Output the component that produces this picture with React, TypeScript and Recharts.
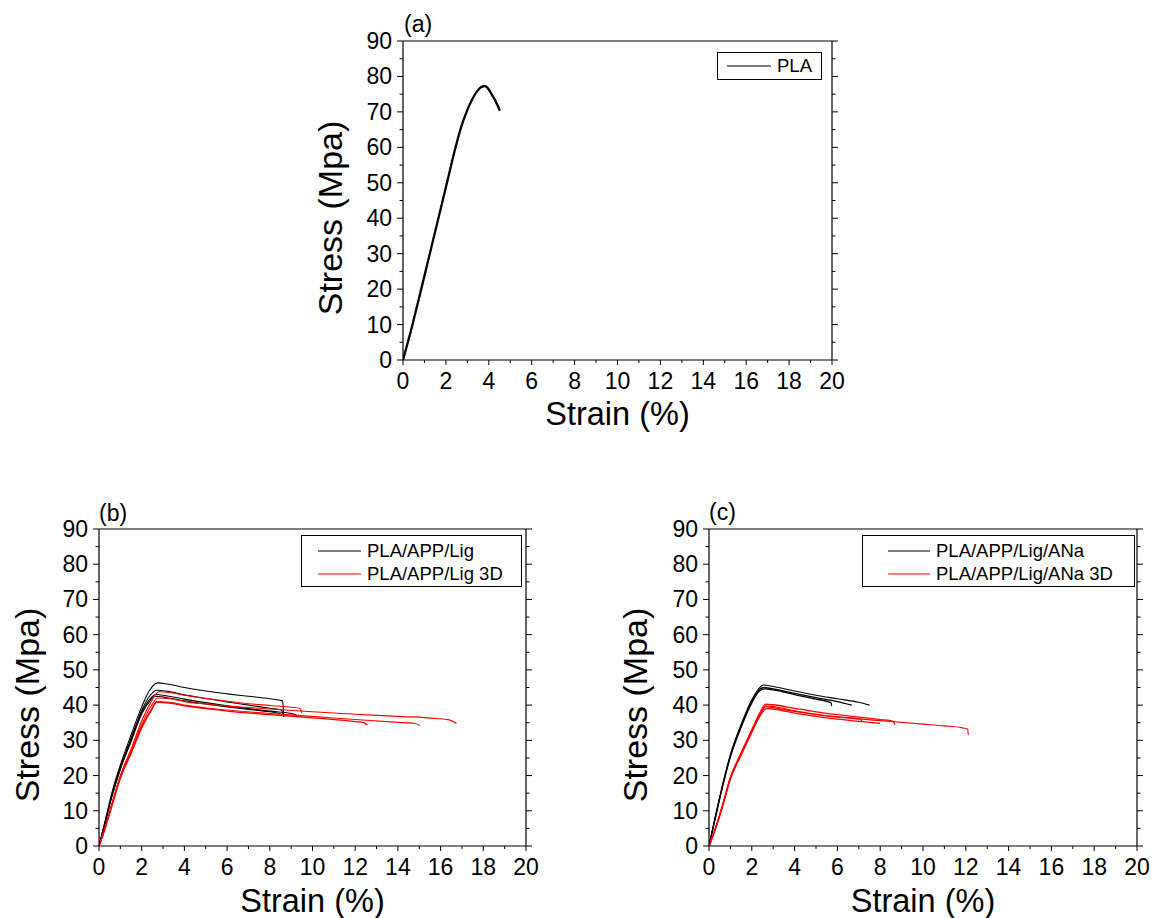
import React from 'react';
import { LineChart, Line, XAxis, YAxis, Legend } from 'recharts';

const FONT = '"Liberation Sans", Arial, Helvetica, sans-serif';
const BLACK = '#000000';
const RED = '#ff0000';

// axis ticks
const strainTicks = [0, 1, 2, 3, 4, 5, 6, 7, 8, 9, 10, 11, 12, 13, 14, 15, 16, 17, 18, 19, 20];
const stressTicks = [0, 5, 10, 15, 20, 25, 30, 35, 40, 45, 50, 55, 60, 65, 70, 75, 80, 85, 90];

// (a) PLA
const plaStrain = [0, 0.4, 0.85, 1.25, 1.65, 2.05, 2.45, 2.7, 2.95, 3.2, 3.45, 3.65, 3.82, 3.95, 4.15, 4.35, 4.52];
const plaStress = [0, 9, 20, 30, 40, 50, 60, 65.5, 69.8, 73.2, 75.8, 77, 77.3, 76.7, 74.8, 72.6, 70.3];

// (b) PLA/APP/Lig
const ligStrain1 = [0, 0.3, 0.6, 1, 1.5, 2, 2.4, 2.75, 3.2, 4, 5, 6, 7, 8, 8.6, 8.65];
const ligStress1 = [0, 7.5, 15, 23, 31.5, 39.5, 44.5, 46.3, 46, 45, 44, 43.2, 42.5, 41.8, 41.2, 36.6];
const ligStrain2 = [0, 0.3, 0.6, 1, 1.5, 2, 2.4, 2.7, 3.2, 4, 5, 6, 7, 8, 8.55, 8.6];
const ligStress2 = [0, 7, 14.5, 22.5, 30.5, 38.5, 42.8, 44.2, 43.9, 42.9, 41.9, 40.9, 40, 39.1, 38.6, 37.3];
const ligStrain3 = [0, 0.3, 0.6, 1, 1.5, 2, 2.4, 2.65, 3.2, 4, 5, 6, 7, 8, 9, 9.25];
const ligStress3 = [0, 7, 14, 22, 30, 38, 41.8, 43, 42.6, 41.7, 40.7, 39.8, 39, 38.3, 37.6, 37.2];
const ligStrain4 = [0, 0.3, 0.6, 1, 1.5, 2, 2.4, 2.6, 3.2, 4, 5, 6, 7, 8, 8.5];
const ligStress4 = [0, 6.8, 14, 21.8, 29.6, 37.5, 41.3, 42.5, 42.1, 41.2, 40.3, 39.5, 38.8, 38.1, 37.6];

// (b) PLA/APP/Lig 3D
const lig3dStrain1 = [0, 0.3, 0.6, 1, 1.5, 2, 2.45, 2.8, 3.3, 4, 5, 6, 7, 8, 9, 9.4, 9.5];
const lig3dStress1 = [0, 5.5, 12, 20, 27.5, 35.5, 41, 43.8, 43.6, 42.8, 41.9, 41.1, 40.4, 39.9, 39.4, 39.1, 37.8];
const lig3dStrain2 = [0, 0.3, 0.6, 1, 1.5, 2, 2.45, 2.75, 3.3, 4, 5, 6, 7, 8, 10, 12, 14, 15.8, 16.4, 16.75];
const lig3dStress2 = [0, 5.5, 11.8, 19.8, 27, 34.5, 39.8, 42, 41.8, 41, 40.3, 39.7, 39.3, 38.9, 38.1, 37.4, 36.8, 36.2, 35.8, 34.8];
const lig3dStrain3 = [0, 0.3, 0.6, 1, 1.5, 2, 2.45, 2.7, 3.3, 4, 5, 6, 8, 10, 12, 14, 14.8, 15.03];
const lig3dStress3 = [0, 5.3, 11.5, 19.5, 26.5, 34, 38.8, 41, 40.8, 40, 39.2, 38.6, 37.6, 36.8, 35.9, 35.1, 34.8, 34.2];
const lig3dStrain4 = [0, 0.3, 0.6, 1, 1.5, 2, 2.45, 2.7, 3.3, 4, 5, 6, 8, 10, 12, 12.4, 12.57];
const lig3dStress4 = [0, 5.2, 11.2, 19.2, 26.2, 33.5, 38.5, 40.8, 40.6, 39.8, 39, 38.3, 37.3, 36.4, 35.3, 35, 34.3];

// (c) PLA/APP/Lig/ANa
const anaStrain1 = [0, 0.3, 0.6, 1, 1.5, 2, 2.3, 2.55, 3, 4, 5, 6, 7, 7.5];
const anaStress1 = [0, 8.5, 16.5, 26, 34.5, 41.5, 44.5, 45.7, 45.3, 44, 42.8, 41.8, 40.8, 40];
const anaStrain2 = [0, 0.3, 0.6, 1, 1.5, 2, 2.3, 2.55, 3, 4, 5, 6, 6.67];
const anaStress2 = [0, 8.3, 16.2, 25.6, 34, 41, 44, 45, 44.6, 43.3, 42.1, 41, 40];
const anaStrain3 = [0, 0.3, 0.6, 1, 1.5, 2, 2.3, 2.6, 3, 4, 5, 5.7, 5.73];
const anaStress3 = [0, 8, 16, 25.3, 33.7, 40.6, 43.6, 44.6, 44.3, 43, 41.7, 40.7, 39.8];

// (c) PLA/APP/Lig/ANa 3D
const ana3dStrain1 = [0, 0.3, 0.6, 1, 1.5, 2, 2.35, 2.65, 3, 4, 5, 6, 7, 8, 8.6, 8.69];
const ana3dStress1 = [0, 5, 11, 19.5, 26.5, 33, 37.5, 40.3, 40.1, 39.1, 38.1, 37.3, 36.6, 35.9, 35.4, 34.4];
const ana3dStrain2 = [0, 0.3, 0.6, 1, 1.5, 2, 2.35, 2.65, 3, 4, 5, 6, 7, 8, 9, 10, 11, 11.8, 12.08, 12.12];
const ana3dStress2 = [0, 5, 10.8, 19.3, 26.3, 32.8, 37.2, 39.8, 39.6, 38.4, 37.4, 36.7, 36.1, 35.6, 35.1, 34.6, 34.1, 33.6, 33.2, 31.5];
const ana3dStrain3 = [0, 0.3, 0.6, 1, 1.5, 2, 2.35, 2.7, 3, 4, 5, 6, 7, 7.99];
const ana3dStress3 = [0, 4.8, 10.5, 19, 25.8, 32.2, 36.6, 39, 38.9, 37.7, 36.8, 36, 35.4, 34.8];
const ana3dStrain4 = [0, 0.3, 0.6, 1, 1.5, 2, 2.35, 2.65, 3, 4, 5, 6, 7.1, 7.13];
const ana3dStress4 = [0, 4.9, 10.7, 19.2, 26, 32.5, 36.9, 39.5, 39.3, 38.2, 37.3, 36.6, 36, 35.4];

type Pt = { x: number; y: number };
type Curve = { name: string; color: string; width: number; data: Pt[]; legend: boolean };

const zip = (strain: number[], stress: number[]): Pt[] => strain.map((x, i) => ({ x, y: stress[i] }));

const curvesA: Curve[] = [
  { name: 'PLA', color: BLACK, width: 2.3, data: zip(plaStrain, plaStress), legend: true },
];

const curvesB: Curve[] = [
  { name: 'PLA/APP/Lig', color: BLACK, width: 1.1, data: zip(ligStrain1, ligStress1), legend: true },
  { name: 'lig2', color: BLACK, width: 1.1, data: zip(ligStrain2, ligStress2), legend: false },
  { name: 'lig3', color: BLACK, width: 1.1, data: zip(ligStrain3, ligStress3), legend: false },
  { name: 'lig4', color: BLACK, width: 1.1, data: zip(ligStrain4, ligStress4), legend: false },
  { name: 'PLA/APP/Lig 3D', color: RED, width: 1.1, data: zip(lig3dStrain1, lig3dStress1), legend: true },
  { name: 'lig3d2', color: RED, width: 1.1, data: zip(lig3dStrain2, lig3dStress2), legend: false },
  { name: 'lig3d3', color: RED, width: 1.1, data: zip(lig3dStrain3, lig3dStress3), legend: false },
  { name: 'lig3d4', color: RED, width: 1.3, data: zip(lig3dStrain4, lig3dStress4), legend: false },
];

const curvesC: Curve[] = [
  { name: 'PLA/APP/Lig/ANa', color: BLACK, width: 1.1, data: zip(anaStrain1, anaStress1), legend: true },
  { name: 'ana2', color: BLACK, width: 1.3, data: zip(anaStrain2, anaStress2), legend: false },
  { name: 'ana3', color: BLACK, width: 1.3, data: zip(anaStrain3, anaStress3), legend: false },
  { name: 'PLA/APP/Lig/ANa 3D', color: RED, width: 1.3, data: zip(ana3dStrain1, ana3dStress1), legend: true },
  { name: 'ana3d2', color: RED, width: 1.1, data: zip(ana3dStrain2, ana3dStress2), legend: false },
  { name: 'ana3d3', color: RED, width: 1.3, data: zip(ana3dStrain3, ana3dStress3), legend: false },
  { name: 'ana3d4', color: RED, width: 1.3, data: zip(ana3dStrain4, ana3dStress4), legend: false },
];

function BottomTick(props: any) {
  const { x, y, payload } = props;
  const v = payload.value;
  const major = v % 2 === 0;
  return (
    <g>
      <line x1={x} x2={x} y1={y} y2={y + (major ? 5 : 3)} stroke={BLACK} strokeWidth={1} />
      {major && (
        <text x={x} y={y + 29} textAnchor="middle" fontSize={23} fontFamily={FONT} fill={BLACK}>
          {v}
        </text>
      )}
    </g>
  );
}

function TopTick(props: any) {
  const { x, y, payload } = props;
  const major = payload.value % 2 === 0;
  return <line x1={x} x2={x} y1={y} y2={y - (major ? 5 : 3)} stroke={BLACK} strokeWidth={1} />;
}

function LeftTick(props: any) {
  const { x, y, payload } = props;
  const v = payload.value;
  const major = v % 10 === 0;
  return (
    <g>
      <line x1={x} x2={x - (major ? 6 : 3.5)} y1={y} y2={y} stroke={BLACK} strokeWidth={1} />
      {major && (
        <text x={x - 11} y={y + 8} textAnchor="end" fontSize={23} fontFamily={FONT} fill={BLACK}>
          {v}
        </text>
      )}
    </g>
  );
}

function RightTick(props: any) {
  const { x, y, payload } = props;
  const major = payload.value % 10 === 0;
  return <line x1={x} x2={x + (major ? 6 : 3.5)} y1={y} y2={y} stroke={BLACK} strokeWidth={1} />;
}

type Box = { left: number; top: number; width: number; height: number; padLeft: number; sample: number; rowH: number; padTop: number };

const makeLegend = (box: Box, names: string[]) => (props: any) => {
  const items = ((props.payload || []) as any[]).filter((it) => names.includes(it.value));
  return (
    <div
      style={{
        boxSizing: 'border-box',
        width: box.width,
        height: box.height,
        border: '1.3px solid #000',
        background: '#fff',
        paddingLeft: box.padLeft,
        paddingTop: box.padTop,
        fontFamily: FONT,
        fontSize: 18.5,
        color: BLACK,
      }}
    >
      {items.map((it) => (
        <div key={it.value} style={{ display: 'flex', alignItems: 'center', height: box.rowH, whiteSpace: 'nowrap' }}>
          <svg width={box.sample} height={4} style={{ marginRight: 6 }}>
            <line x1={0} x2={box.sample} y1={2} y2={2} stroke={it.color} strokeWidth={1.2} />
          </svg>
          <span>{it.value}</span>
        </div>
      ))}
    </div>
  );
};

type PanelProps = {
  left: number;
  top: number;
  width: number;
  height: number;
  margin: { top: number; right: number; bottom: number; left: number };
  curves: Curve[];
  box: Box;
};

function Panel({ left, top, width, height, margin, curves, box }: PanelProps) {
  const legendNames = curves.filter((c) => c.legend).map((c) => c.name);
  return (
    <div style={{ position: 'absolute', left, top }}>
      <LineChart width={width} height={height} margin={margin}>
        <XAxis
          dataKey="x"
          type="number"
          domain={[0, 20]}
          ticks={strainTicks}
          interval={0}
          allowDataOverflow
          tickSize={0}
          tickMargin={0}
          tickLine={false}
          tick={<BottomTick />}
          axisLine={{ stroke: BLACK, strokeWidth: 1.2 }}
          height={40}
        />
        <XAxis
          xAxisId="top"
          orientation="top"
          type="number"
          domain={[0, 20]}
          ticks={strainTicks}
          interval={0}
          allowDataOverflow
          tickSize={0}
          tickMargin={0}
          tickLine={false}
          tick={<TopTick />}
          axisLine={{ stroke: BLACK, strokeWidth: 1.2 }}
          height={10}
        />
        <YAxis
          type="number"
          domain={[0, 90]}
          ticks={stressTicks}
          interval={0}
          allowDataOverflow
          tickSize={0}
          tickMargin={0}
          tickLine={false}
          tick={<LeftTick />}
          axisLine={{ stroke: BLACK, strokeWidth: 1.2 }}
          width={60}
        />
        <YAxis
          yAxisId="right"
          orientation="right"
          type="number"
          domain={[0, 90]}
          ticks={stressTicks}
          interval={0}
          allowDataOverflow
          tickSize={0}
          tickMargin={0}
          tickLine={false}
          tick={<RightTick />}
          axisLine={{ stroke: BLACK, strokeWidth: 1.2 }}
          width={10}
        />
        <Legend
          layout="horizontal"
          align="center"
          verticalAlign="middle"
          content={makeLegend(box, legendNames)}
          wrapperStyle={{ position: 'absolute', left: box.left, top: box.top, width: box.width, height: box.height }}
        />
        {curves.map((c) => (
          <Line
            key={c.name}
            data={c.data}
            dataKey="y"
            name={c.name}
            type="monotone"
            stroke={c.color}
            strokeWidth={c.width}
            dot={false}
            activeDot={false}
            legendType={c.legend ? 'line' : 'none'}
            isAnimationActive={false}
          />
        ))}
      </LineChart>
    </div>
  );
}

const textStyle = { fontFamily: FONT, fill: BLACK } as const;

export default function App() {
  return (
    <div style={{ position: 'absolute', left: 0, top: 0, width: 1156, height: 918, background: '#fff', overflow: 'hidden' }}>
      <Panel
        left={300}
        top={0}
        width={560}
        height={440}
        margin={{ top: 31, right: 18, bottom: 40, left: 43 }}
        curves={curvesA}
        box={{ left: 417, top: 52, width: 105, height: 28, padLeft: 9, sample: 44, rowH: 25, padTop: 0 }}
      />
      <Panel
        left={0}
        top={490}
        width={560}
        height={428}
        margin={{ top: 29, right: 24, bottom: 32, left: 39 }}
        curves={curvesB}
        box={{ left: 301, top: 45, width: 221, height: 52, padLeft: 16, sample: 43, rowH: 23, padTop: 3.5 }}
      />
      <Panel
        left={600}
        top={490}
        width={556}
        height={428}
        margin={{ top: 29, right: 9, bottom: 32, left: 49 }}
        curves={curvesC}
        box={{ left: 262, top: 45, width: 273, height: 52, padLeft: 25, sample: 42, rowH: 23, padTop: 3.5 }}
      />
      <svg width={1156} height={918} style={{ position: 'absolute', left: 0, top: 0, pointerEvents: 'none' }}>
        <text x={404} y={32} fontSize={23} {...textStyle}>(a)</text>
        <text x={99} y={521} fontSize={23} {...textStyle}>(b)</text>
        <text x={709} y={520} fontSize={23} {...textStyle}>(c)</text>

        <text x={617.5} y={425} fontSize={32.5} textAnchor="middle" {...textStyle}>Strain (%)</text>
        <text x={312.5} y={911.5} fontSize={32.5} textAnchor="middle" {...textStyle}>Strain (%)</text>
        <text x={923} y={911.5} fontSize={32.5} textAnchor="middle" {...textStyle}>Strain (%)</text>

        <text x={342} y={218} fontSize={34} textAnchor="middle" transform="rotate(-90 342 218)" {...textStyle}>Stress (Mpa)</text>
        <text x={38.5} y={705} fontSize={34} textAnchor="middle" transform="rotate(-90 38.5 705)" {...textStyle}>Stress (Mpa)</text>
        <text x={647} y={705} fontSize={34} textAnchor="middle" transform="rotate(-90 647 705)" {...textStyle}>Stress (Mpa)</text>
      </svg>
    </div>
  );
}
